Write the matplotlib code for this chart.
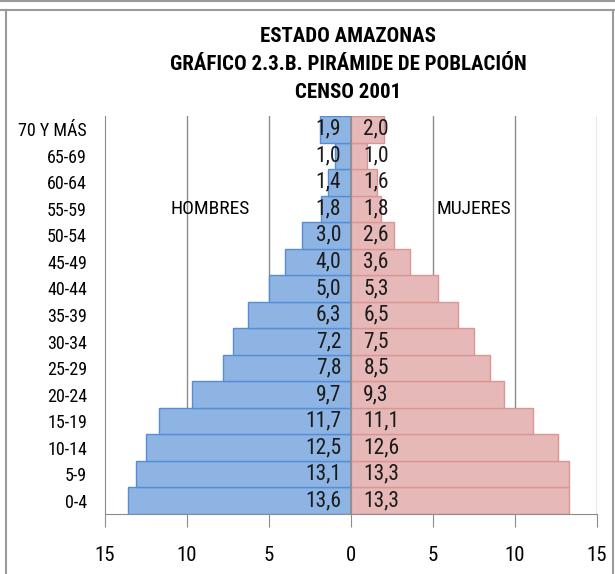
import matplotlib
matplotlib.use("Agg")
import matplotlib.pyplot as plt
from matplotlib import font_manager as fm
import numpy as np

categories = ["0-4", "5-9", "10-14", "15-19", "20-24", "25-29", "30-34", "35-39",
              "40-44", "45-49", "50-54", "55-59", "60-64", "65-69", "70 Y MÁS"]
hombres = [13.6, 13.1, 12.5, 11.7, 9.7, 7.8, 7.2, 6.3, 5.0, 4.0, 3.0, 1.8, 1.4, 1.0, 1.9]
mujeres = [13.3, 13.3, 12.6, 11.1, 9.3, 8.5, 7.5, 6.5, 5.3, 3.6, 2.6, 1.8, 1.6, 1.0, 2.0]
xticks = [-15, -10, -5, 0, 5, 10, 15]
title_lines = ["ESTADO AMAZONAS", "GRÁFICO 2.3.B. PIRÁMIDE DE POBLACIÓN", "CENSO 2001"]


def is_condensed(f):
    s = f.stretch
    txt = (f.name + " " + f.fname).lower()
    if "narrow" in txt or "condensed" in txt:
        return True
    if isinstance(s, str):
        return "condensed" in s
    try:
        return float(s) < 500
    except Exception:
        return False


def wnum(w):
    if isinstance(w, (int, float)):
        return w
    return {"bold": 700, "semibold": 600, "demibold": 600, "heavy": 800, "black": 900,
            "normal": 400, "regular": 400, "medium": 500, "light": 300}.get(str(w).lower(), 400)


def pick(bold):
    prefs = ["liberation sans narrow", "roboto condensed", "open sans condensed", "dejavu sans", "noto sans", "lato", "inter", "open sans", "roboto"]
    best = None
    for f in fm.fontManager.ttflist:
        if not is_condensed(f) or f.style != "normal":
            continue
        if "mono" in f.name.lower() or "serif" in f.name.lower() and "sans" not in f.name.lower():
            continue
        w = wnum(f.weight)
        if bold and w < 600:
            continue
        if not bold and (w < 350 or w > 500):
            continue
        rank = len(prefs)
        for i, p in enumerate(prefs):
            if f.name.lower().startswith(p):
                rank = i
                break
        key = (rank, abs(w - (700 if bold else 400)))
        if best is None or key < best[0]:
            best = (key, f.fname)
    if best is None:
        return fm.FontProperties(family="DejaVu Sans", weight="bold" if bold else "normal")
    return fm.FontProperties(fname=best[1])


FP = pick(False)
FPB = pick(True)


def fp(size, bold=False):
    p = (FPB if bold else FP).copy()
    p.set_size(size)
    return p


fig = plt.figure(figsize=(6.15, 5.74), dpi=100)
W, H = 615, 574
ax = fig.add_axes([105 / W, 1 - 514 / H, (597 - 105) / W, (514 - 116) / H])

y = np.arange(len(categories))
ax.barh(y, [-v for v in hombres], height=1.0, color="#8DB4E2", edgecolor="#558ED5", linewidth=1, zorder=2)
ax.barh(y, mujeres, height=1.0, color="#E6B9B8", edgecolor="#D99694", linewidth=1, zorder=2)

for i, (h, m) in enumerate(zip(hombres, mujeres)):
    ax.text(-0.6, i, f"{h:.1f}".replace(".", ","), ha="right", va="center", fontproperties=fp(15.5), color="#1a1a1a", zorder=4)
    ax.text(0.75, i, f"{m:.1f}".replace(".", ","), ha="left", va="center", fontproperties=fp(15.5), color="#1a1a1a", zorder=4)

ax.set_xlim(-15, 15)
ax.set_ylim(-0.5, len(categories) - 0.5)
ax.set_xticks(xticks)
ax.set_xticklabels([str(abs(t)) for t in xticks])
for lab in ax.get_xticklabels():
    lab.set_fontproperties(fp(15))
ax.set_yticks(y)
ax.set_yticklabels(categories)
for lab in ax.get_yticklabels():
    lab.set_fontproperties(fp(13))
ax.tick_params(axis="y", length=0, pad=13)
ax.tick_params(axis="x", length=9, color="#8c8c8c", pad=14, direction="out")
for t in [-10, -5, 5, 10, 15]:
    ax.axvline(t, color="#8c8c8c", linewidth=1, zorder=1)
ax.axvline(0, color="#8c8c8c", linewidth=1.2, zorder=3)
for side in ["top", "right"]:
    ax.spines[side].set_visible(False)
ax.spines["left"].set_color("#8c8c8c")
ax.spines["bottom"].set_color("#8c8c8c")

ax.text(-8.6, 11, "HOMBRES", ha="center", va="center", fontproperties=fp(14), zorder=5)
ax.text(7.5, 11, "MUJERES", ha="center", va="center", fontproperties=fp(14), zorder=5)

for k, line in enumerate(title_lines):
    fig.text(348 / W, 1 - (37 + 28 * k) / H, line, ha="center", va="center", fontproperties=fp(15, True))

# outer frame lines
fig.add_artist(plt.Line2D([0, 1], [1 - 1 / H, 1 - 1 / H], color="#9a9a9a", lw=1.5))
fig.add_artist(plt.Line2D([0, 1], [1 - 10 / H, 1 - 10 / H], color="#9a9a9a", lw=1.5))
fig.add_artist(plt.Line2D([6 / W, 6 / W], [0, 1 - 10 / H], color="#9a9a9a", lw=1.5))
fig.add_artist(plt.Line2D([613 / W, 613 / W], [0, 1 - 10 / H], color="#9a9a9a", lw=1.5))

fig.savefig("out.png", dpi=100)
